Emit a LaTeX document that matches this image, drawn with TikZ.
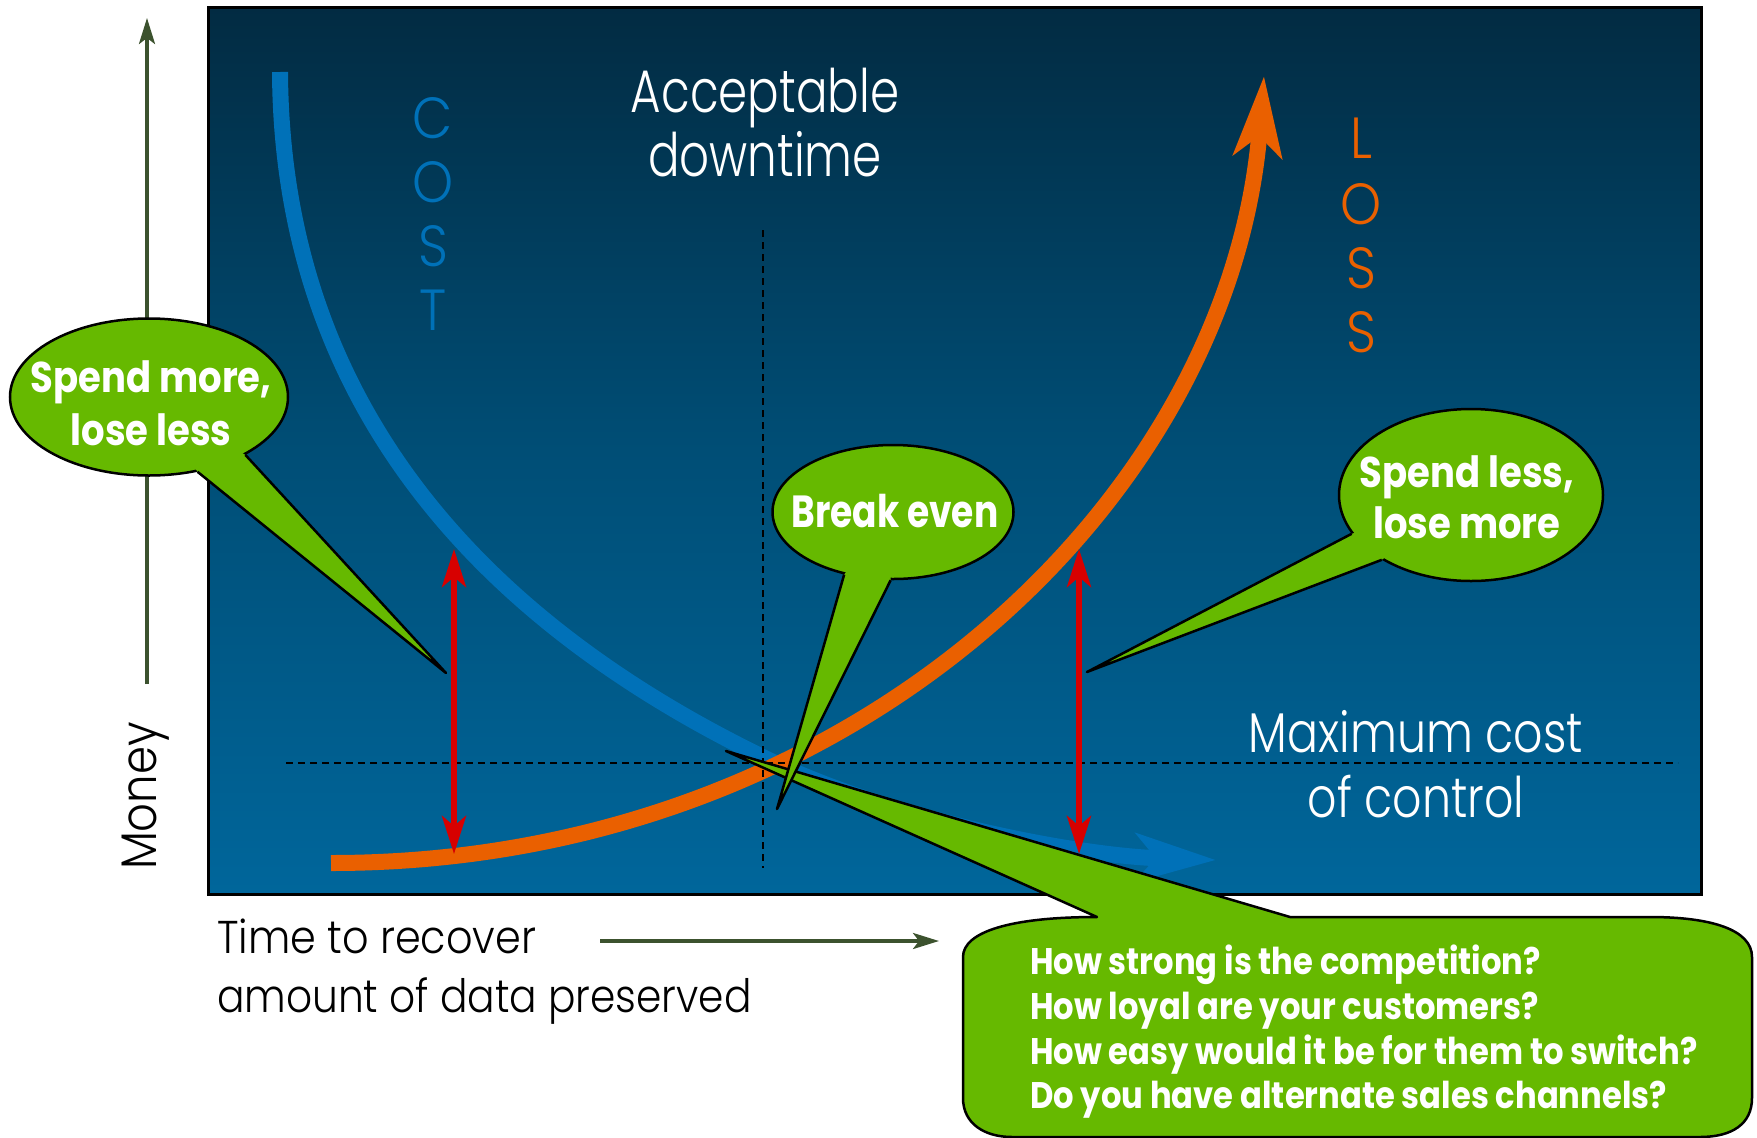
\documentclass[tikz,border=0pt]{standalone}
\usepackage{fontspec}
\newfontfamily\lightf{Poppins Light}
\newfontfamily\boldf{Poppins Bold}
\usetikzlibrary{shapes.geometric,arrows.meta}
\definecolor{navytop}{RGB}{2,43,66}
\definecolor{navymid}{RGB}{0,78,118}
\definecolor{navybot}{RGB}{0,102,155}
\definecolor{costblue}{RGB}{0,113,184}
\definecolor{lossorange}{RGB}{234,96,0}
\definecolor{callgreen}{RGB}{102,185,0}
\definecolor{axisgreen}{RGB}{60,82,46}
\definecolor{redarrow}{RGB}{215,0,0}
\begin{document}
\begin{tikzpicture}[x=1pt,y=-1pt,
  lbl/.style={inner sep=0pt, font=\lightf, text=white},
  btxt/.style={inner sep=0pt, font=\boldf, text=white},
  bub/.style={ellipse, draw=black, line width=2.5pt, fill=callgreen, inner sep=0pt},
  wedgeline/.style={draw=black, line width=2.5pt, line join=round},
  dashline/.style={black, line width=1.6pt, dash pattern=on 7pt off 5pt},
  curve/.style={line width=16pt, -{Stealth[length=80pt,width=48pt,inset=20pt]}},
  gap/.style={redarrow, line width=6pt, {Stealth[length=38pt,width=24pt,inset=10pt]}-{Stealth[length=38pt,width=24pt,inset=10pt]}},
  axis/.style={axisgreen, line width=3.5pt, -{Stealth[length=26pt,width=16pt,inset=6pt]}}
]
\useasboundingbox (0,0) rectangle (1757,1138);
\clip (0,0) rectangle (1757,1138);

% axes
\coordinate (ybot) at (147,684); \coordinate (ytop) at (147,18);
\coordinate (xl) at (600,941); \coordinate (xr) at (939,941);
\draw[axis] (ybot) -- (ytop);
\draw[axis] (xl) -- (xr);

% frame
\shade[top color=navytop, bottom color=navybot, middle color=navymid] (208,7) rectangle (1701,894);
\draw[line width=3pt] (208,7) rectangle (1701,894);

% curves
\coordinate (cost0) at (280,72); \coordinate (costmid) at (773,762); \coordinate (cost1) at (1216,860);
\coordinate (loss0) at (331,863); \coordinate (loss1) at (1264,76);
\draw[curve, costblue] (cost0) .. controls (282,430) and (513,638) .. (costmid)
   .. controls (900,822) and (1080,856) .. (cost1);
\draw[curve, lossorange] (loss0) .. controls (850,863) and (1230,500) .. (loss1);

% dashed guides
\coordinate (vtop) at (763,230); \coordinate (vbot) at (763,868);
\coordinate (hl) at (286,763); \coordinate (hr) at (1678,763);
\draw[dashline] (vtop) -- (vbot);
\draw[dashline] (hl) -- (hr);

% red gaps
\coordinate (rl1) at (454,549); \coordinate (rl2) at (454,854);
\coordinate (rr1) at (1079,549); \coordinate (rr2) at (1079,854);
\draw[gap] (rl1) -- (rl2);
\draw[gap] (rr1) -- (rr2);

% labels
\node[lbl, anchor=base, xscale=0.78] (acc1) at (765,112) {\fontsize{60}{60}\selectfont Acceptable};
\node[lbl, anchor=base, xscale=0.78] (acc2) at (765,176) {\fontsize{60}{60}\selectfont downtime};
\node[lbl, anchor=base, xscale=0.82] (max1) at (1416,752) {\fontsize{56}{56}\selectfont Maximum cost};
\node[lbl, anchor=base, xscale=0.82] (max2) at (1416,817) {\fontsize{56}{56}\selectfont of control};
\foreach \ch/\yy [count=\i] in {C/138,O/202,S/266,T/330}
  \node[lbl, text=costblue, anchor=base, xscale=0.9] (cost\i) at (433,\yy) {\fontsize{58}{58}\selectfont \ch};
\foreach \ch/\yy [count=\i] in {L/158,O/224,S/288,S/352}
  \node[lbl, text=lossorange, anchor=base, xscale=0.9] (loss\i) at (1361,\yy) {\fontsize{58}{58}\selectfont \ch};
\node[lbl, text=black, anchor=base west, xscale=0.9] (time1) at (217,953) {\fontsize{46}{46}\selectfont Time to recover};
\node[lbl, text=black, anchor=base west, xscale=0.885] (time2) at (217,1012) {\fontsize{46}{46}\selectfont amount of data preserved};
\node[lbl, text=black, rotate=90, xscale=0.9] (money) at (146,796) {\fontsize{50}{50}\selectfont Money};

% bottom callout
\coordinate (tipq) at (726,751);
\filldraw[fill=callgreen, draw=black, line width=2.5pt, line join=round]
  (1097,917) -- (tipq) -- (1290,917) -- (1650,917)
  .. controls (1712,917) and (1752,930) .. (1752,957) -- (1752,1098)
  .. controls (1752,1124) and (1732,1137) .. (1700,1137) -- (1012,1137)
  .. controls (985,1137) and (963,1124) .. (963,1098) -- (963,957)
  .. controls (963,932) and (1010,917) .. (1097,917) -- cycle;
\node[btxt, anchor=base west, xscale=0.87] (q1) at (1030,974) {\fontsize{37}{37}\selectfont How strong is the competition?};
\node[btxt, anchor=base west, xscale=0.87] (q2) at (1030,1019) {\fontsize{37}{37}\selectfont How loyal are your customers?};
\node[btxt, anchor=base west, xscale=0.87] (q3) at (1030,1064) {\fontsize{37}{37}\selectfont How easy would it be for them to switch?};
\node[btxt, anchor=base west, xscale=0.87] (q4) at (1030,1108) {\fontsize{37}{37}\selectfont Do you have alternate sales channels?};

% callout: spend more
\node[bub, minimum width=278pt, minimum height=157pt] (b1) at (149,397) {};
\coordinate (tip1) at (446,673);
\fill[callgreen] (b1.303) -- (tip1) -- (b1.329) -- (b1.center) -- cycle;
\draw[wedgeline] (b1.303) -- (tip1) -- (b1.329);
\node[btxt, anchor=base, xscale=0.86] (s1a) at (151,392) {\fontsize{43}{43}\selectfont Spend more,};
\node[btxt, anchor=base, xscale=0.86] (s1b) at (151,445) {\fontsize{43}{43}\selectfont lose less};

% callout: break even
\node[bub, minimum width=241pt, minimum height=134pt] (b2) at (893,512) {};
\coordinate (tip2) at (777,809);
\fill[callgreen] (b2.232) -- (tip2) -- (b2.268) -- (b2.center) -- cycle;
\draw[wedgeline] (b2.232) -- (tip2) -- (b2.268);
\node[btxt, anchor=base, xscale=0.8] (s2) at (895,527) {\fontsize{45}{45}\selectfont Break even};

% callout: spend less
\node[bub, minimum width=264pt, minimum height=172pt] (b3) at (1471,495) {};
\coordinate (tip3) at (1087,672);
\fill[callgreen] (b3.198) -- (tip3) -- (b3.216) -- (b3.center) -- cycle;
\draw[wedgeline] (b3.198) -- (tip3) -- (b3.216);
\node[btxt, anchor=base, xscale=0.86] (s3a) at (1467,487) {\fontsize{43}{43}\selectfont Spend less,};
\node[btxt, anchor=base, xscale=0.86] (s3b) at (1467,538) {\fontsize{43}{43}\selectfont lose more};
\end{tikzpicture}
\end{document}
